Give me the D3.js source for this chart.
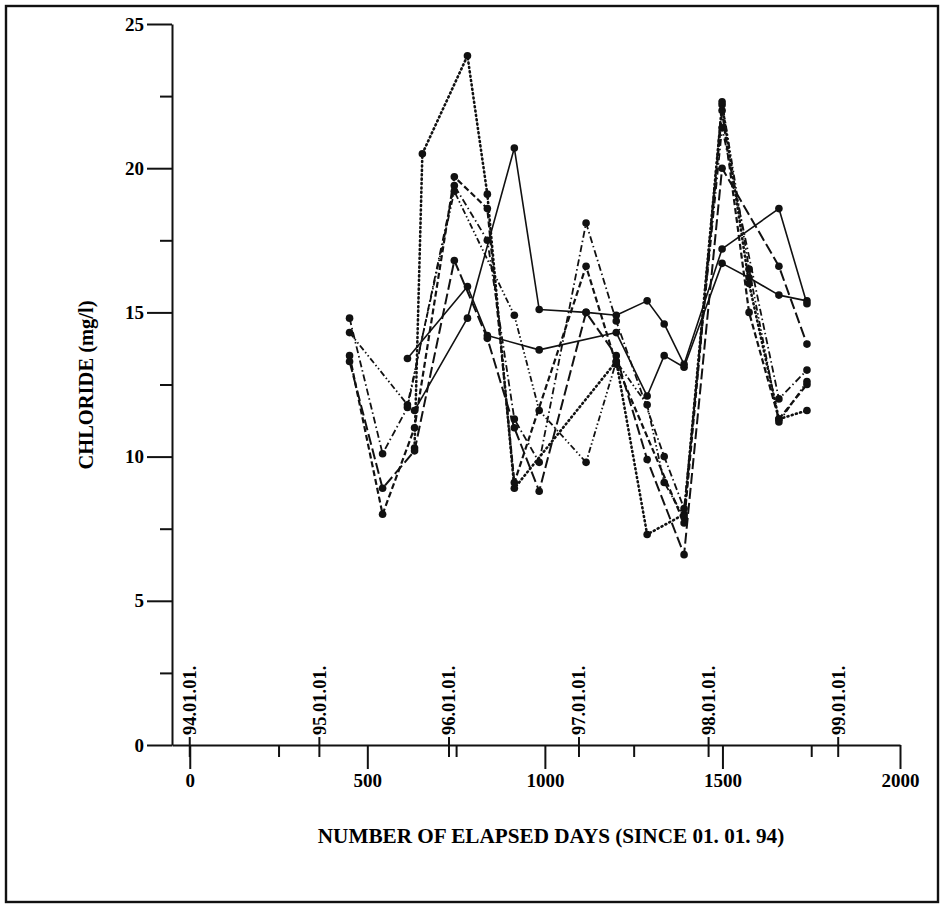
<!DOCTYPE html>
<html>
<head>
<meta charset="utf-8">
<script src="https://cdn.jsdelivr.net/npm/d3@7"></script>
<style>
  html, body { margin: 0; padding: 0; background: #fff; }
  svg { display: block; }
  text { font-family: "Liberation Serif", "Times New Roman", serif; fill: #000; }
</style>
</head>
<body>
<svg id="chart" width="943" height="908"></svg>
<script>
// ---- data ----
const yTicks = [0, 5, 10, 15, 20, 25];
const yMinorTicks = [2.5, 7.5, 12.5, 17.5, 22.5];
const xTicks = [0, 500, 1000, 1500, 2000];
const xMinorTicks = [250, 750, 1250, 1750];
const yearDays = [0, 365, 730, 1096, 1461, 1826];
const yearLabels = ["94.01.01.", "95.01.01.", "96.01.01.", "97.01.01.", "98.01.01.", "99.01.01."];
const yTitle = "CHLORIDE (mg/l)";
const xTitle = "NUMBER OF ELAPSED DAYS (SINCE 01. 01. 94)";

const s1 = [[613,13.4],[782,15.9],[838,14.2],[984,13.7],[1201,14.3],[1288,12.1],[1336,13.5],[1392,13.1],[1499,16.7],[1575,16.2],[1659,15.6],[1738,15.4]];
const s2 = [[633,11.6],[782,14.8],[914,20.7],[984,15.1],[1116,15.0],[1201,14.9],[1288,15.4],[1336,14.6],[1392,13.2],[1499,17.2],[1659,18.6],[1738,15.3]];
const s3 = [[633,10.3],[655,20.5],[782,23.9],[838,19.1],[914,8.9],[1201,13.3],[1288,7.3],[1392,8.0],[1499,22.2],[1575,16.0],[1659,11.3],[1738,11.6]];
const s4 = [[450,13.5],[543,8.0],[633,11.0],[745,19.7],[838,18.6],[914,9.1],[1116,16.6],[1201,13.2],[1392,7.7],[1499,22.0],[1575,15.0],[1659,11.3],[1738,12.5]];
const s5 = [[450,14.8],[543,10.1],[613,11.7],[745,19.4],[838,17.5],[914,11.3],[984,9.8],[1116,18.1],[1201,14.7],[1336,10.0],[1392,8.2],[1499,21.4],[1659,12.0],[1738,13.0]];
const s6 = [[450,13.3],[543,8.9],[633,10.2],[745,16.8],[838,14.1],[914,11.0],[984,8.8],[1116,15.0],[1201,13.5],[1288,9.9],[1392,6.6],[1499,20.0],[1659,16.6],[1738,13.9]];
const s7 = [[450,14.3],[613,11.8],[745,19.2],[914,14.9],[984,11.6],[1116,9.8],[1201,13.3],[1288,11.8],[1336,9.1],[1392,7.9],[1499,22.3],[1575,16.5],[1659,11.2],[1738,12.6]];
const seriesList = [s1, s2, s3, s4, s5, s6, s7];
const dashStyles = ["none", "none", "1,3.4", "6,3", "7,3,1.5,3", "11,4", "6,2.5,1.5,2.5,1.5,2.5"];
const widths = [1.6, 1.6, 2.6, 2.2, 1.8, 2.0, 1.8];

// ---- chart ----
const svg = d3.select("#chart");
svg.append("rect").attr("x", 6).attr("y", 6).attr("width", 932).attr("height", 896)
  .attr("fill", "#fff").attr("stroke", "#111").attr("stroke-width", 2.4);

const x = d3.scaleLinear().domain([-50, 2000]).range([172, 900]);
const y = d3.scaleLinear().domain([0, 25]).range([745, 24]);

const fontTick = "bold 19px 'Liberation Serif', serif";

// y axis
const gy = svg.append("g").attr("transform", `translate(${x(-50)},0)`)
  .call(d3.axisLeft(y).tickValues(yTicks).tickSize(25).tickSizeOuter(0).tickPadding(3).tickFormat(d3.format("d")));
gy.selectAll("text").style("font", fontTick);
svg.append("g").attr("transform", `translate(${x(-50)},0)`)
  .call(d3.axisLeft(y).tickValues(yMinorTicks).tickSize(12).tickFormat(""))
  .select(".domain").remove();

// x axis
const gx = svg.append("g").attr("transform", `translate(0,${y(0)})`)
  .call(d3.axisBottom(x).tickValues(xTicks).tickSize(24).tickSizeOuter(0).tickPadding(5).tickFormat(d3.format("d")));
gx.selectAll("text").style("font", fontTick);
svg.append("g").attr("transform", `translate(0,${y(0)})`)
  .call(d3.axisBottom(x).tickValues(xMinorTicks).tickSize(12).tickFormat(""))
  .select(".domain").remove();
svg.selectAll(".domain, .tick line").attr("stroke", "#111").attr("stroke-width", 2);

// year markers
const yr = svg.append("g");
yr.selectAll("line").data(yearDays).join("line")
  .attr("x1", d => x(d)).attr("x2", d => x(d))
  .attr("y1", y(0) - 8).attr("y2", y(0) + 12)
  .attr("stroke", "#111").attr("stroke-width", 2);
yr.selectAll("text").data(yearDays).join("text")
  .attr("transform", d => `translate(${x(d)},${y(0) - 10}) rotate(-90)`)
  .attr("dy", "0.35em")
  .style("font", "bold 18.5px 'Liberation Serif', serif")
  .text((d, i) => yearLabels[i]);

// titles
svg.append("text").attr("transform", `translate(86,385) rotate(-90)`)
  .attr("text-anchor", "middle").attr("dy", "0.35em")
  .style("font", "bold 20.5px 'Liberation Serif', serif").text(yTitle);
svg.append("text").attr("x", 551).attr("y", 843).attr("text-anchor", "middle")
  .style("font", "bold 21.2px 'Liberation Serif', serif").text(xTitle);

// series
const line = d3.line().x(d => x(d[0])).y(d => y(d[1]));
const gs = svg.append("g");
seriesList.forEach((s, i) => {
  gs.append("path").attr("d", line(s)).attr("fill", "none")
    .attr("stroke", "#111").attr("stroke-width", widths[i])
    .attr("stroke-linecap", i === 2 ? "round" : "butt")
    .attr("stroke-linejoin", "round")
    .attr("stroke-dasharray", dashStyles[i]);
  gs.selectAll(null).data(s).join("circle")
    .attr("cx", d => x(d[0])).attr("cy", d => y(d[1])).attr("r", 3.8).attr("fill", "#111");
});
</script>
</body>
</html>
